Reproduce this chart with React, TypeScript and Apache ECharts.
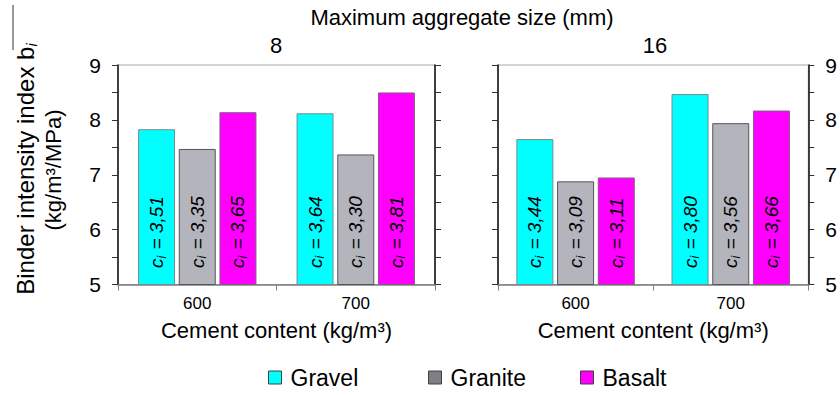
import React, { useEffect, useRef } from "react";
import * as echarts from "echarts";

// Cement content categories and maximum aggregate sizes (mm)
const categories = ["600", "700"];
const aggregateSizes = ["8", "16"];

// Binder intensity index b_i (kg/m³/MPa), 8 mm aggregate
const gravel8 = [7.83, 8.12];
const granite8 = [7.47, 7.37];
const basalt8 = [8.14, 8.5];

// Binder intensity index b_i (kg/m³/MPa), 16 mm aggregate
const gravel16 = [7.65, 8.47];
const granite16 = [6.88, 7.94];
const basalt16 = [6.95, 8.17];

// c_i coefficients written inside the bars
const cGravel8 = [3.51, 3.64];
const cGranite8 = [3.35, 3.3];
const cBasalt8 = [3.65, 3.81];
const cGravel16 = [3.44, 3.8];
const cGranite16 = [3.09, 3.56];
const cBasalt16 = [3.11, 3.66];

const FONT = '"Liberation Sans", Arial, Helvetica, sans-serif';
const COLORS: Record<string, string> = {
  Gravel: "#00ffff",
  Granite: "#b4b4bc",
  Basalt: "#ff00ff",
};
const BORDERS: Record<string, string> = {
  Gravel: "#7a8a8a",
  Granite: "#555560",
  Basalt: "#806080",
};
const LEGEND_ICON: Record<string, string> = {
  Gravel: "#00ffff",
  Granite: "#7e7e86",
  Basalt: "#ff00ff",
};

const fmtComma = (v: number) => v.toFixed(2).replace(".", ",");

function barSeries(name: string, values: number[], coeffs: number[], panel: number) {
  return {
    type: "bar",
    name,
    xAxisIndex: panel,
    yAxisIndex: panel * 2,
    data: values,
    barWidth: 37,
    barGap: "10%",
    itemStyle: { color: COLORS[name], borderColor: BORDERS[name], borderWidth: 1 },
    label: {
      show: true,
      position: "insideBottom",
      distance: 17,
      rotate: 90,
      align: "left",
      verticalAlign: "middle",
      color: "#000",
      fontFamily: FONT,
      fontSize: 19,
      fontStyle: "italic",
      formatter: (p: any) => `{c|c}{s|i}{t| = ${fmtComma(coeffs[p.dataIndex])}}`,
      rich: {
        c: { fontFamily: FONT, fontSize: 19, fontStyle: "italic", color: "#000", lineHeight: 22 },
        s: {
          fontFamily: FONT,
          fontSize: 12,
          fontStyle: "italic",
          color: "#000",
          verticalAlign: "bottom",
          lineHeight: 22,
          padding: [0, 1, 0, 0],
        },
        t: { fontFamily: FONT, fontSize: 19, fontStyle: "italic", color: "#000", lineHeight: 22 },
      },
    },
  };
}

function yAxis(panel: number, position: "left" | "right", showLabels: boolean) {
  return {
    type: "value",
    gridIndex: panel,
    position,
    min: 5,
    max: 9,
    interval: 1,
    axisLine: { show: true, lineStyle: { color: "#1a1a1a", width: 1.6 } },
    axisTick: { show: true, length: 6, lineStyle: { color: "#333" } },
    minorTick: { show: true, splitNumber: 2, length: 6, lineStyle: { color: "#333" } },
    splitLine: { show: false },
    minorSplitLine: { show: false },
    axisLabel: {
      show: showLabels,
      fontSize: 21,
      fontFamily: FONT,
      color: "#000",
      margin: 17,
    },
  };
}

function xAxis(panel: number) {
  return {
    type: "category",
    gridIndex: panel,
    data: categories,
    axisLine: { show: true, lineStyle: { color: "#7f7f7f", width: 1.5 } },
    axisTick: { show: true, length: 6, lineStyle: { color: "#7f7f7f" } },
    axisLabel: { fontSize: 17, fontFamily: FONT, color: "#000", margin: 10 },
    name: "Cement content (kg/m³)",
    nameLocation: "middle",
    nameGap: 35,
    nameTextStyle: { fontSize: 22, fontFamily: FONT, color: "#000" },
  };
}

function legendFor(name: string, left: number) {
  return {
    data: [{ name, itemStyle: { color: LEGEND_ICON[name], borderColor: "#404040", borderWidth: 1 } }],
    left,
    top: 366,
    padding: 0,
    icon: "rect",
    itemWidth: 13,
    itemHeight: 13,
    textStyle: { fontSize: 23, fontFamily: FONT, color: "#000", padding: [0, 0, 0, 4] },
    selectedMode: false,
  };
}

export default function App() {
  const ref = useRef<HTMLDivElement>(null);

  useEffect(() => {
    if (!ref.current) return;
    const chart = echarts.init(ref.current, null, { renderer: "svg" });

    const gridBase = { top: 65, height: 219.5, show: true, borderColor: "#a8a8a8", borderWidth: 1 };

    chart.setOption({
      animation: false,
      backgroundColor: "#fff",
      grid: [
        { ...gridBase, left: 118, width: 317 },
        { ...gridBase, left: 498, width: 316 },
      ],
      xAxis: [xAxis(0), xAxis(1)],
      yAxis: [
        yAxis(0, "left", true),
        yAxis(0, "right", false),
        yAxis(1, "left", false),
        yAxis(1, "right", true),
      ],
      legend: [legendFor("Gravel", 268), legendFor("Granite", 428), legendFor("Basalt", 580)],
      series: [
        barSeries("Gravel", gravel8, cGravel8, 0),
        barSeries("Granite", granite8, cGranite8, 0),
        barSeries("Basalt", basalt8, cBasalt8, 0),
        barSeries("Gravel", gravel16, cGravel16, 1),
        barSeries("Granite", granite16, cGranite16, 1),
        barSeries("Basalt", basalt16, cBasalt16, 1),
      ],
      graphic: [
        {
          type: "text",
          x: 462,
          y: 17,
          style: {
            text: "Maximum aggregate size (mm)",
            fontSize: 22,
            fontFamily: FONT,
            fill: "#000",
            align: "center",
            verticalAlign: "middle",
          },
        },
        {
          type: "text",
          x: 276,
          y: 45,
          style: {
            text: aggregateSizes[0],
            fontSize: 22,
            fontFamily: FONT,
            fill: "#000",
            align: "center",
            verticalAlign: "middle",
          },
        },
        {
          type: "text",
          x: 655,
          y: 45,
          style: {
            text: aggregateSizes[1],
            fontSize: 22,
            fontFamily: FONT,
            fill: "#000",
            align: "center",
            verticalAlign: "middle",
          },
        },
        {
          type: "text",
          x: 25,
          y: 169,
          rotation: Math.PI / 2,
          style: {
            text: "{m|Binder intensity index b}{s|i}",
            align: "center",
            verticalAlign: "middle",
            rich: {
              m: { fontSize: 24, fontFamily: FONT, fill: "#000", lineHeight: 27 },
              s: {
                fontSize: 15,
                fontFamily: FONT,
                fontStyle: "italic",
                fill: "#000",
                verticalAlign: "bottom",
                lineHeight: 27,
              },
            },
          },
        },
        {
          type: "text",
          x: 53,
          y: 170,
          rotation: Math.PI / 2,
          style: {
            text: "(kg/m³/MPa)",
            fontSize: 22,
            fontFamily: FONT,
            fill: "#000",
            align: "center",
            verticalAlign: "middle",
          },
        },
        {
          type: "line",
          shape: { x1: 13, y1: 5, x2: 13, y2: 50 },
          style: { stroke: "#333", lineWidth: 1 },
        },
      ],
    });

    return () => chart.dispose();
  }, []);

  return (
    <div
      ref={ref}
      style={{ position: "absolute", left: 0, top: 0, width: 840, height: 395, background: "#fff" }}
    />
  );
}
